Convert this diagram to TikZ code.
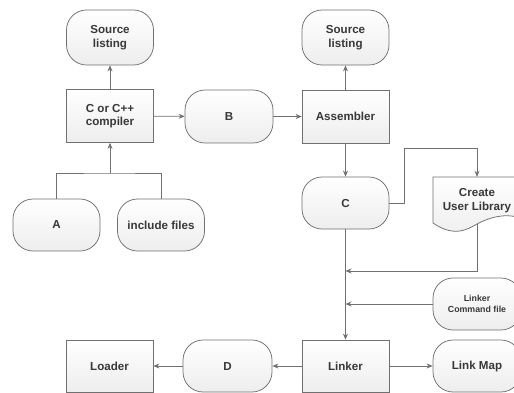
\documentclass[tikz,border=0pt]{standalone}
\usepackage{fontspec}
\setmainfont{Liberation Sans}
\usetikzlibrary{arrows.meta}
\definecolor{edge}{HTML}{707070}
\definecolor{txt}{HTML}{383838}
\begin{document}
\begin{tikzpicture}[x=1pt,y=-1pt,
 label/.style={text=txt, font=\fontsize{11.6}{13.5}\selectfont\bfseries, align=center, inner sep=0pt},
 base/.style={label, draw=edge, line width=0.75pt, top color=white, bottom color=black!7},
 proc/.style={base, rectangle, minimum width=87pt, minimum height=53pt},
 term/.style={base, rectangle, rounded corners=20pt, minimum width=87pt, minimum height=53pt},
 conn/.style={draw=edge, line width=0.75pt, -{Stealth[length=6pt,width=5pt]}},
 plain/.style={draw=edge, line width=0.75pt}]
\useasboundingbox (0,0) rectangle (514,392);
% nodes
\node[term, minimum height=55pt] (src1) at (110,37.5) {Source\\listing};
\node[proc] (comp) at (110,116) {C or C++\\compiler};
\node[term, minimum width=88pt] (B) at (229,116.5) {B};
\node[proc] (asm) at (345.5,116.5) {Assembler};
\node[term, minimum height=55pt] (src2) at (345.5,37.5) {Source\\listing};
\node[term, minimum height=52pt] (C) at (345.5,203) {C};
% document shape
\path[draw=edge, line width=0.75pt, top color=white, bottom color=black!7]
  (433,177) -- (521,177) -- (521,218)
  .. controls (505,213) and (490,217) .. (477,224)
  .. controls (468,229) and (455,238) .. (433,223) -- cycle;
\node[label, minimum width=88pt, minimum height=47pt] (lib) at (477,200.5) {Create\\User Library};
\node[term, minimum height=52pt] (A) at (56.5,225) {A};
\node[term, minimum height=52pt] (inc) at (161,225) {include files};
\node[term, minimum width=88pt, minimum height=52pt, font=\fontsize{8.8}{11}\selectfont\bfseries] (cmd) at (477,304) {Linker\\Command file};
\node[proc, minimum height=52pt] (loader) at (109.5,366) {Loader};
\node[term, minimum width=89pt, minimum height=52pt] (D) at (227.5,366) {D};
\node[proc, minimum height=52pt] (linker) at (345.5,366) {Linker};
\node[term, minimum width=88pt, minimum height=52pt] (map) at (477,366) {Link Map};
% connectors
\draw[conn] (comp) -- (src1);
\draw[conn] (comp) -- (B);
\draw[conn] (B) -- (asm);
\draw[conn] (asm) -- (src2);
\draw[conn] (asm) -- (C);
\coordinate (ab) at (110,173);
\draw[plain] (A.north) |- (ab) -| (inc.north);
\draw[conn] (ab) -- (comp.south);
\coordinate (c1) at (404,148);
\draw[conn] (C.east) -| (c1) -| (lib.north);
\coordinate (j1) at (345.5,271);
\coordinate (j2) at (345.5,304);
\draw[conn] (lib.south) |- (j1);
\draw[conn] (cmd.west) -- (j2);
\draw[conn] (C) -- (linker);
\draw[conn] (linker) -- (D);
\draw[conn] (D) -- (loader);
\draw[conn] (linker) -- (map);
\end{tikzpicture}
\end{document}
